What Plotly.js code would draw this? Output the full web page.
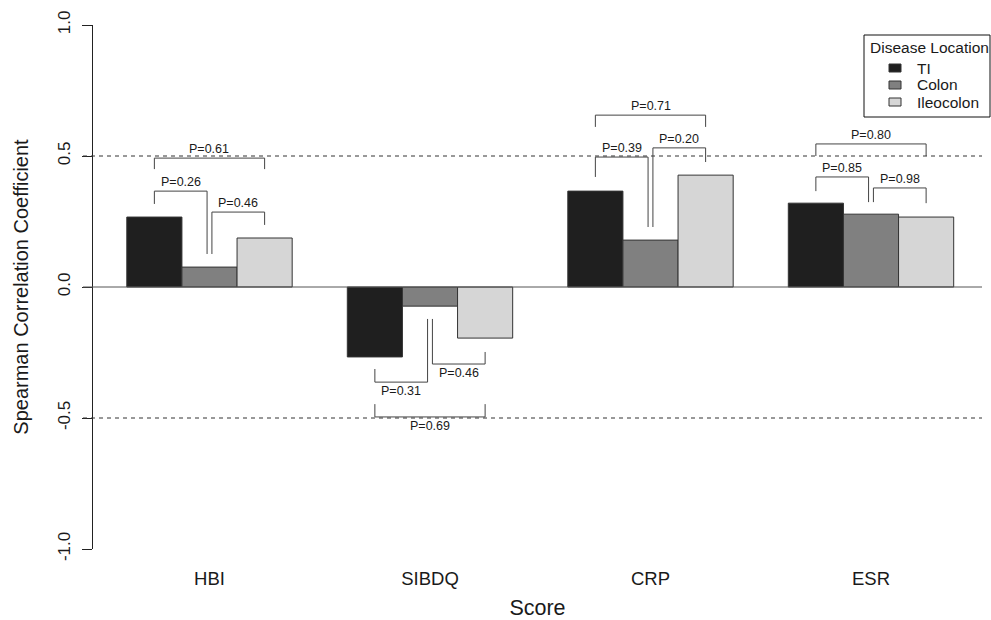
<!DOCTYPE html>
<html>
<head>
<meta charset="utf-8">
<script src="https://cdn.plot.ly/plotly-3.0.1.min.js"></script>
<style>html,body{margin:0;padding:0;background:#fff;}#chart{width:991px;height:620px;}</style>
</head>
<body>
<div id="chart"></div>
<script>
// ---- data ----
const categories = ["HBI", "SIBDQ", "CRP", "ESR"];
const seriesNames = ["TI", "Colon", "Ileocolon"];
const tiValues = [0.267, -0.267, 0.366, 0.320];
const colonValues = [0.076, -0.073, 0.179, 0.278];
const ileocolonValues = [0.187, -0.195, 0.427, 0.267];
const yTickVals = [-1, -0.5, 0, 0.5, 1];
const yTickText = ["-1.0", "-0.5", "0.0", "0.5", "1.0"];
// pairwise comparisons: group, first bar, second bar, bracket level, leg ends, label
const pGroup = [0, 0, 0, 1, 1, 1, 2, 2, 2, 3, 3, 3];
const pFrom  = [0, 1, 0, 0, 1, 0, 0, 1, 0, 0, 1, 0];
const pTo    = [1, 2, 2, 1, 2, 2, 1, 2, 2, 1, 2, 2];
const pLevel = [0.366, 0.286, 0.492, -0.363, -0.294, -0.496, 0.496, 0.531, 0.656, 0.420, 0.378, 0.546];
const pLegA  = [0.317, 0.126, 0.450, -0.313, -0.122, -0.447, 0.420, 0.229, 0.611, 0.366, 0.324, 0.500];
const pLegB  = [0.126, 0.237, 0.450, -0.122, -0.248, -0.447, 0.229, 0.477, 0.611, 0.324, 0.320, 0.500];
const pLabels = ["P=0.26", "P=0.46", "P=0.61", "P=0.31", "P=0.46", "P=0.69",
                 "P=0.39", "P=0.20", "P=0.71", "P=0.85", "P=0.98", "P=0.80"];

// ---- styles ----
const FONT = "Liberation Sans, Arial, Helvetica, sans-serif";
const TXT = "#1a1a1a";
const colors = ["#1f1f1f", "#808080", "#d6d6d6"];
const LINE = "#333333";
const BR = "#444444";

const W = 991, H = 620;
const M = {l: 93, r: 9, t: 25, b: 71};
const PW = W - M.l - M.r, PH = H - M.t - M.b;
const X = px => (px - M.l) / PW;
const Y = py => (H - M.b - py) / PH;

const values = [tiValues, colonValues, ileocolonValues];
const idx = categories.map((c, i) => i);
const traces = seriesNames.map((name, s) => ({
  type: "bar",
  name: name,
  x: idx,
  y: values[s],
  marker: {color: colors[s], line: {color: LINE, width: 1}},
  hoverinfo: "name+y",
  showlegend: false
}));

const barW = 0.25;
const off = [-barW, 0, barW];
const inset = 0.011;
const shapes = [];
const annotations = [];

// reference lines
[[-0.5, "4px,4px"], [0.5, "4px,4px"], [0, "solid"]].forEach(([v, d]) => {
  shapes.push({type: "line", xref: "paper", yref: "y", x0: X(83), x1: 1, y0: v, y1: v,
    line: {color: v === 0 ? "#555" : "#333", width: 1, dash: d}, layer: "above"});
});

// brackets
pLabels.forEach((lab, k) => {
  const g = pGroup[k];
  let xa = g + off[pFrom[k]];
  let xb = g + off[pTo[k]];
  if (pFrom[k] === 1) xa += inset;
  if (pTo[k] === 1) xb -= inset;
  const lv = pLevel[k];
  const ln = {color: BR, width: 1};
  shapes.push({type: "line", xref: "x", yref: "y", x0: xa, x1: xb, y0: lv, y1: lv, line: ln});
  shapes.push({type: "line", xref: "x", yref: "y", x0: xa, x1: xa, y0: lv, y1: pLegA[k], line: ln});
  shapes.push({type: "line", xref: "x", yref: "y", x0: xb, x1: xb, y0: lv, y1: pLegB[k], line: ln});
  annotations.push({x: (xa + xb) / 2, y: lv, xref: "x", yref: "y", text: lab, showarrow: false,
    xanchor: "center", yanchor: "middle", yshift: lv > 0 ? 9 : -9,
    font: {family: FONT, size: 12.5, color: TXT}});
});

// legend (drawn box)
shapes.push({type: "rect", xref: "paper", yref: "paper", x0: X(864), x1: X(990), y0: Y(117), y1: Y(35),
  line: {color: "#111", width: 1}, fillcolor: "#fff", layer: "above"});
annotations.push({xref: "paper", yref: "paper", x: X(868), y: Y(48), text: "Disease Location",
  showarrow: false, xanchor: "left", yanchor: "middle", font: {family: FONT, size: 15.5, color: TXT}});
const rows = [68, 85, 102];
seriesNames.forEach((name, s) => {
  shapes.push({type: "rect", xref: "paper", yref: "paper", x0: X(889), x1: X(901),
    y0: Y(rows[s] + 4), y1: Y(rows[s] - 4), fillcolor: colors[s], line: {color: LINE, width: 1}, layer: "above"});
  annotations.push({xref: "paper", yref: "paper", x: X(915), y: Y(rows[s]), text: name,
    showarrow: false, xanchor: "left", yanchor: "middle", font: {family: FONT, size: 15.5, color: TXT}});
});

const layout = {
  width: W, height: H,
  margin: M,
  paper_bgcolor: "#fff", plot_bgcolor: "#fff",
  barmode: "group", bargap: 0.25, bargroupgap: 0,
  showlegend: false,
  font: {family: FONT, color: TXT},
  xaxis: {
    range: [-0.5283, 3.5034],
    tickvals: idx, ticktext: categories,
    ticks: "", showline: false, showgrid: false, zeroline: false,
    tickfont: {family: FONT, size: 18.5, color: TXT},
    ticklabelstandoff: 16,
    title: {text: "Score", font: {family: FONT, size: 21.5, color: TXT}, standoff: 21},
    automargin: false, fixedrange: true
  },
  yaxis: {
    range: [-1, 1],
    tickvals: yTickVals, ticktext: yTickText,
    tickangle: -90,
    ticks: "outside", ticklen: 10, tickwidth: 1, tickcolor: "#222",
    showline: true, linecolor: "#222", linewidth: 1,
    showgrid: false, zeroline: false,
    tickfont: {family: FONT, size: 17, color: TXT},
    ticklabelstandoff: 5,
    title: {text: "Spearman Correlation Coefficient", font: {family: FONT, size: 20, color: TXT}, standoff: 21},
    automargin: false, fixedrange: true
  },
  shapes: shapes,
  annotations: annotations
};

Plotly.newPlot("chart", traces, layout, {displayModeBar: false, staticPlot: true});
</script>
</body>
</html>
